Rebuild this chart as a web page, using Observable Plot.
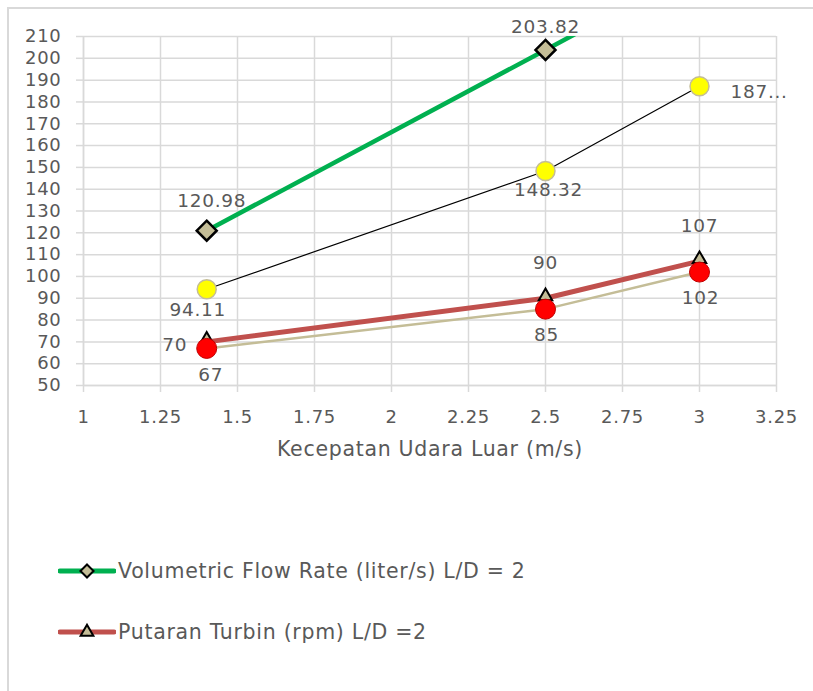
<!DOCTYPE html>
<html>
<head>
<meta charset="utf-8">
<script src="https://cdn.jsdelivr.net/npm/d3@7"></script>
<script src="https://cdn.jsdelivr.net/npm/@observablehq/plot@0.6"></script>
<style>
  body { margin: 0; background: #fff; width: 813px; height: 691px; overflow: hidden; position: relative; font-family: "DejaVu Sans", sans-serif; }
  #frame { position: absolute; left: 7px; top: 7px; width: 900px; height: 800px; border: 2px solid #d9d9d9; box-sizing: border-box; }
  #chart { position: absolute; left: 0; top: 0; }
  .leg { position: absolute; left: 58px; display: flex; align-items: center; color: #595959; font-size: 20.5px; letter-spacing: 0.7px; }
  .leg svg { margin-right: 2px; }
</style>
</head>
<body>
<div id="frame"></div>
<div id="chart"></div>
<div class="leg" id="leg1" style="top:557px"></div>
<div class="leg" id="leg2" style="top:618px"></div>
<script>
// Data
const speed = [1.4, 2.5, 3];                    // Kecepatan Udara Luar (m/s)
const flowRateLD2 = [120.98, 203.82, 241.8];    // Volumetric Flow Rate (liter/s) L/D = 2
const flowRateOther = [94.11, 148.32, 187.2];   // second flow-rate series
const rpmLD2 = [70, 90, 107];                   // Putaran Turbin (rpm) L/D =2
const rpmOther = [67, 85, 102];                 // second rpm series
const flowLabels = ["120.98", "203.82", ""];
const flowOtherLabels = ["94.11", "148.32", "187..."];
const rpmLabels = ["70", "90", "107"];
const rpmOtherLabels = ["67", "85", "102"];
const legendNames = ["Volumetric Flow Rate (liter/s) L/D = 2", "Putaran Turbin (rpm) L/D =2"];
const xTicks = [1, 1.25, 1.5, 1.75, 2, 2.25, 2.5, 2.75, 3, 3.25];
const yTicks = d3.range(50, 211, 10);

const mk = (ys, labels) => speed.map((x, i) => ({x, y: ys[i], label: labels[i], i}));
const flow = mk(flowRateLD2, flowLabels);
const flow2 = mk(flowRateOther, flowOtherLabels);
const rpm = mk(rpmLD2, rpmLabels);
const rpm2 = mk(rpmOther, rpmOtherLabels);

const green = "#00b050", red = "#c0504d", tan = "#c4bd97", grid = "#d9d9d9", txt = "#595959";
const FONT = "DejaVu Sans";
const lblFont = {fontSize: 18.5, fill: txt, fontFamily: FONT};

const plot = Plot.plot({
  width: 813,
  height: 480,
  marginLeft: 83,
  marginRight: 37,
  marginTop: 36,
  marginBottom: 95,
  style: {fontFamily: FONT, color: txt, background: "transparent", letterSpacing: "0.7px"},
  x: {domain: [1, 3.25]},
  y: {domain: [50, 210]},
  marks: [
    Plot.gridY(yTicks, {stroke: grid, strokeOpacity: 1, strokeWidth: 1.5}),
    Plot.gridX(xTicks, {stroke: grid, strokeOpacity: 1, strokeWidth: 1.5}),
    Plot.ruleX([1], {stroke: grid, strokeWidth: 1.5}),
    Plot.ruleY([50], {stroke: grid, strokeWidth: 1.5}),
    Plot.axisY(yTicks, {tickSize: 7, tickPadding: 15, stroke: grid, strokeWidth: 1.5, fill: txt, fontSize: 18, fontFamily: FONT, label: null}),
    Plot.axisX(xTicks, {tickSize: 7, tickPadding: 18, stroke: grid, strokeWidth: 1.5, fill: txt, fontSize: 18, fontFamily: FONT, label: null, tickFormat: d => String(d)}),
    Plot.text(["Kecepatan Udara Luar (m/s)"], {frameAnchor: "bottom", dy: 70, fontSize: 20.5, fill: txt, fontFamily: FONT}),
    // lines
    Plot.line(flow, {x: "x", y: "y", stroke: green, strokeWidth: 4.5, clip: true}),
    Plot.line(flow2, {x: "x", y: "y", stroke: "#000", strokeWidth: 1.2, clip: true}),
    Plot.line(rpm2, {x: "x", y: "y", stroke: tan, strokeWidth: 2.5, clip: true}),
    Plot.line(rpm, {x: "x", y: "y", stroke: red, strokeWidth: 5, clip: true}),
    // markers
    Plot.dot(flow, {x: "x", y: "y", symbol: "diamond2", r: 9, fill: tan, stroke: "#000", strokeWidth: 2.5, clip: true}),
    Plot.dot(flow2, {x: "x", y: "y", r: 9.5, fill: "#ffff00", stroke: tan, strokeWidth: 1.5, clip: true}),
    Plot.dot(rpm, {x: "x", y: "y", symbol: "triangle", r: 5, fill: tan, stroke: "#000", strokeWidth: 2, dy: -2, clip: true}),
    Plot.dot(rpm2, {x: "x", y: "y", r: 10, fill: "#ff0000", stroke: "#c00000", strokeWidth: 1, clip: true}),
    // data labels
    Plot.text(flow.filter(d => d.i === 0), {x: "x", y: "y", text: "label", dx: 5, dy: -30, ...lblFont}),
    Plot.text(flow.filter(d => d.i === 1), {x: "x", y: "y", text: "label", dy: -23, ...lblFont}),
    Plot.text(flow2.filter(d => d.i === 0), {x: "x", y: "y", text: "label", dx: -9, dy: 21, ...lblFont}),
    Plot.text(flow2.filter(d => d.i === 1), {x: "x", y: "y", text: "label", dx: 3, dy: 19, ...lblFont}),
    Plot.text(flow2.filter(d => d.i === 2), {x: "x", y: "y", text: "label", dx: 31, dy: 6, textAnchor: "start", ...lblFont}),
    Plot.text(rpm.filter(d => d.i === 0), {x: "x", y: "y", text: "label", dx: -32, dy: 3, ...lblFont}),
    Plot.text(rpm.filter(d => d.i > 0), {x: "x", y: "y", text: "label", dy: -35, ...lblFont}),
    Plot.text(rpm2.filter(d => d.i === 0), {x: "x", y: "y", text: "label", dx: 4, dy: 27, ...lblFont}),
    Plot.text(rpm2.filter(d => d.i > 0), {x: "x", y: "y", text: "label", dx: 1, dy: 26, ...lblFont})
  ]
});
document.getElementById("chart").appendChild(plot);

// Legend
function swatch(color, symbol) {
  const s = d3.create("svg").attr("width", 58).attr("height", 28);
  s.append("line").attr("x1", 2).attr("x2", 56).attr("y1", 14).attr("y2", 14)
    .attr("stroke", color).attr("stroke-width", 5).attr("stroke-linecap", "round");
  s.append("path").attr("transform", "translate(29,14)")
    .attr("d", d3.symbol(symbol, symbol === d3.symbolDiamond2 ? 110 : 70)())
    .attr("fill", tan).attr("stroke", "#000").attr("stroke-width", 2);
  return s.node();
}
const l1 = document.getElementById("leg1");
l1.appendChild(swatch(green, d3.symbolDiamond2));
l1.appendChild(document.createTextNode(legendNames[0]));
const l2 = document.getElementById("leg2");
l2.appendChild(swatch(red, d3.symbolTriangle));
l2.appendChild(document.createTextNode(legendNames[1]));
</script>
</body>
</html>
